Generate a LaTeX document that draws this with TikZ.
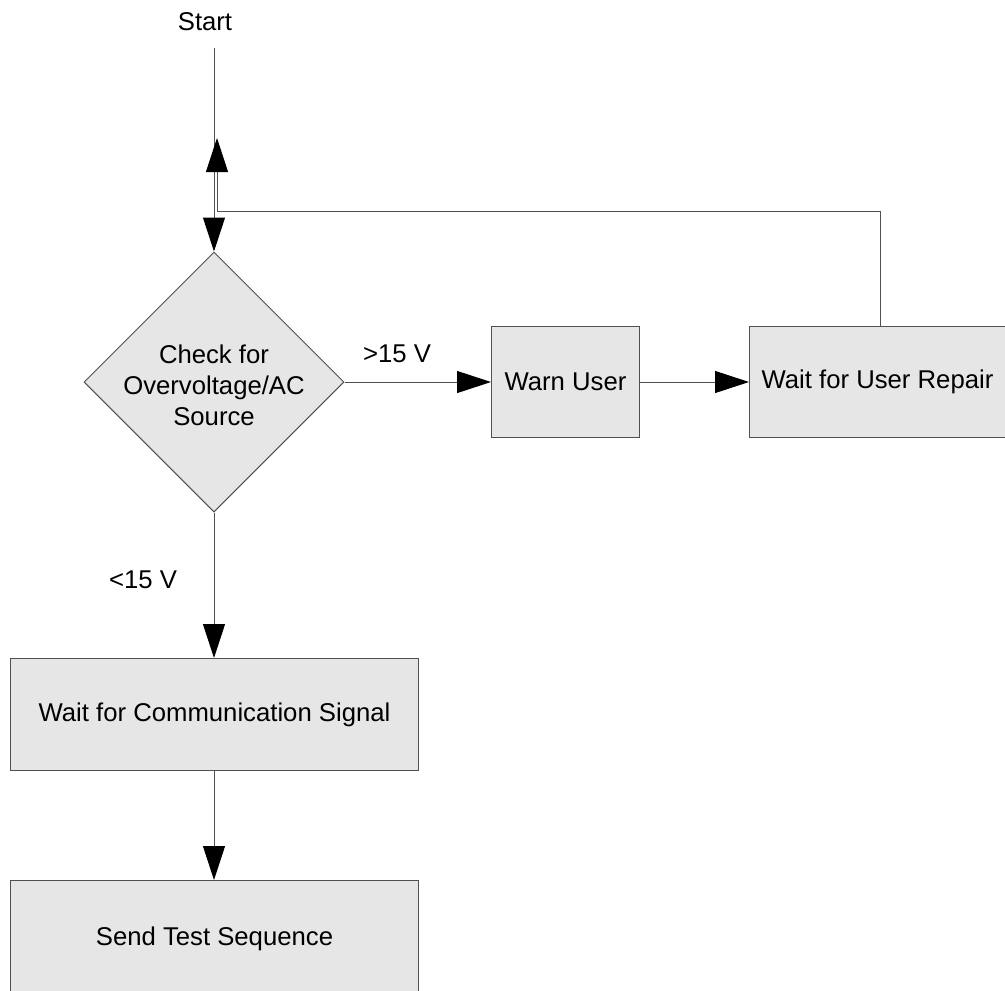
\documentclass[tikz,border=0pt]{standalone}
\usepackage{fontspec}
\setmainfont{Liberation Sans}
\usetikzlibrary{arrows.meta,shapes.geometric}
\definecolor{boxfill}{HTML}{E6E6E6}
\definecolor{edge}{HTML}{505050}
\begin{document}
\begin{tikzpicture}[x=1pt,y=-1pt,
  every node/.style={font=\fontsize{25.7}{31}\selectfont},
  procbox/.style={draw=edge,fill=boxfill,line width=1pt,rectangle,inner sep=0pt,anchor=north west},
  decide/.style={draw=edge,fill=boxfill,line width=1pt,diamond,aspect=1,inner sep=0pt,minimum width=260pt,minimum height=260pt,align=center},
  flow/.style={draw=edge,line width=1pt,-{Triangle[length=34pt,width=22pt,fill=black,color=black]}},
  lbl/.style={inner sep=0pt}]
\useasboundingbox (0,0) rectangle (1005,991);
\node[lbl] (startlbl) at (205,22) {Start};
\coordinate (start) at (214,48);
\node[decide] (check) at (214,382) {};
\node[align=center] (checktxt) at (214,385) {Check for\\Overvoltage/AC\\Source};
\node[procbox,minimum width=148pt,minimum height=111pt] (warn) at (491,326) {};
\node at (warn.center) {Warn User};
\node[procbox,minimum width=260pt,minimum height=111pt] (repair) at (749,326) {};
\node at ([xshift=-2pt]repair.center) {Wait for User Repair};
\node[procbox,minimum width=408pt,minimum height=112pt] (comm) at (10,658) {};
\node at (comm.center) {Wait for Communication Signal};
\node[procbox,minimum width=408pt,minimum height=116pt] (send) at (10,880) {};
\node at (send.center) {Send Test Sequence};
\coordinate (looptop) at (216,138);
\coordinate (loopcorner) at (217,211);
\draw[flow] (start) -- (check.north);
\draw[flow] (check.east) -- (warn.west);
\draw[flow] (warn.east) -- (repair.west);
\draw[flow] (repair.north -| 880,0) |- (loopcorner) -- (looptop -| loopcorner);
\draw[flow] (check.south) -- (comm.north -| check.south);
\draw[flow] (comm.south -| check.south) -- (send.north -| check.south);
\node[lbl] (gt) at (397,354) {>15 V};
\node[lbl] (lt) at (143,580) {<15 V};
\end{tikzpicture}
\end{document}
